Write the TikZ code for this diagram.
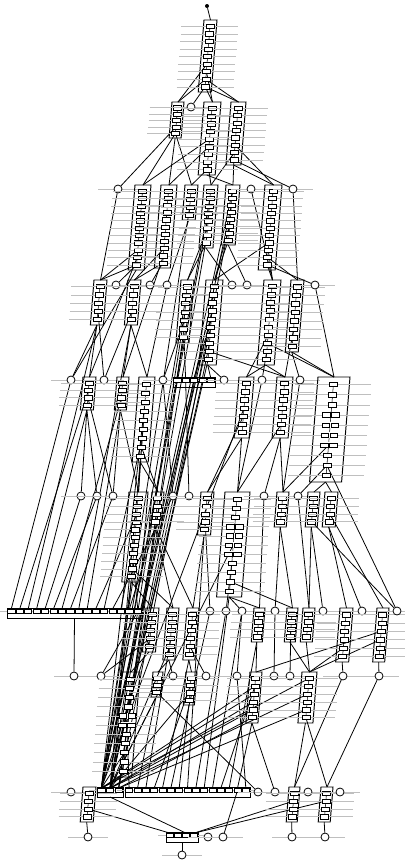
\documentclass[tikz,border=0pt]{standalone}
\usepackage{tikz}
\usetikzlibrary{calc,backgrounds}
\tikzstyle{ring}=[circle, draw=black, fill=white, minimum size=0.16cm, inner sep=0pt, line width=0.45pt]
\tikzstyle{cell}=[rectangle, draw=black, fill=white, minimum width=0.16cm, minimum height=0.085cm, inner sep=0pt, line width=0.28pt]
\tikzstyle{barcell}=[rectangle, draw=black, fill=white, minimum height=0.085cm, inner sep=0pt, line width=0.28pt]
\tikzstyle{frame}=[draw=black, line width=0.55pt]
\tikzstyle{wire}=[black, line width=0.45pt]
\tikzstyle{labline}=[gray!50, line width=0.25pt]
\tikzstyle{dot}=[circle, fill=black, minimum size=0.08cm, inner sep=0pt]

% cluster: name, x, y, width, height, cells
\newcommand{\clus}[6]{%
  \pgfmathsetmacro{\clS}{0.08*#5}
  \draw[frame] (#2,#3) -- ++(#4,0) -- ++(-\clS,#5) -- ++(-#4,0) -- cycle;
  \coordinate (#1) at ({#2+#4/2},#3);
  \coordinate (#1b) at ({#2+#4/2-\clS},{#3+#5});
  \foreach \i in {1,...,#6}{
    \pgfmathsetmacro{\clY}{#3+2.5+(\i-0.5)*(#5-4)/#6}
    \pgfmathsetmacro{\clX}{#2+#4/2-\clS*(\clY-#3)/#5}
    \draw[labline] ({\clX-#4/2-22},\clY) -- ({\clX+#4/2+22},\clY);
    \node[cell] (#1-\i) at (\clX,\clY) {};
  }
  \begin{pgfonlayer}{background}
    \draw[wire, line width=0.3pt] (#1-1.center) -- (#1-#6.center);
  \end{pgfonlayer}
}
% bar: name, x, y, width, cells
\newcommand{\cbar}[5]{%
  \draw[frame, line width=0.45pt] (#2,#3) rectangle ({#2+#4},{#3+10});
  \coordinate (#1) at ({#2+#4/2},#3);
  \coordinate (#1b) at ({#2+#4/2},{#3+10});
  \draw[labline] ({#2-8},{#3+3.5}) -- ({#2+#4+8},{#3+3.5});
  \pgfmathsetmacro{\clW}{(#4/#5-1.2)*0.02}
  \foreach \i in {1,...,#5}{
    \pgfmathsetmacro{\clX}{#2+(\i-0.5)*#4/#5}
    \node[barcell, minimum width=\clW cm] (#1-\i) at (\clX,{#3+3.5}) {};
  }
}
% ring: name, x, y
\newcommand{\ring}[3]{%
  \draw[labline] ({#2-20},#3) -- ({#2+20},#3);
  \node[ring] (#1) at (#2,#3) {};
}
% split a cell in two
\newcommand{\twin}[2]{%
  \fill[white] ($(#1-#2)+(-5.5,-3)$) rectangle ($(#1-#2)+(5.5,3)$);
  \node[cell, minimum width=0.15cm] at ($(#1-#2)+(-4.5,0)$) {};
  \node[cell, minimum width=0.15cm] at ($(#1-#2)+(4.5,0)$) {};
}

\begin{document}
\begin{tikzpicture}[x=0.02cm, y=-0.02cm]
  \useasboundingbox (0,0) rectangle (405,860);

  % Row 1
  \node[dot] (in) at (207,6) {};
  \clus{a}{204}{20}{13}{72}{9}

  % Row 2
  \clus{b1}{172}{102}{12}{36}{5}
  \ring{h2a}{191}{107}
  \clus{b2}{204}{102}{17}{73}{9}
  \clus{b3}{231}{102}{15}{63}{8}

  % Row 3
  \ring{h3a}{118}{189}
  \clus{c1}{135}{185}{16}{85}{11}
  \clus{c2}{161}{185}{16}{83}{11}
  \clus{c3}{185}{185}{13}{35}{4}
  \clus{c4}{204}{185}{14}{63}{8}
  \clus{c5}{226}{185}{14}{60}{8}
  \ring{h3b}{251}{189}
  \clus{c6}{265}{185}{17}{85}{11}
  \ring{h3c}{293}{189}

  % Row 4
  \clus{d1}{94}{280}{13}{45}{5}
  \ring{h4a}{116}{285}
  \clus{d2}{128}{280}{13}{45}{5}
  \ring{h4b}{150}{285}
  \ring{h4c}{167}{285}
  \clus{d3}{181}{280}{13}{63}{7}
  \clus{d4}{206}{280}{17}{85}{10}
  \ring{h4d}{232}{285}
  \ring{h4e}{247}{285}
  \clus{d5}{264}{280}{17}{85}{10}
  \clus{d6}{291}{280}{13}{72}{8}
  \ring{h4f}{315}{285}

  % Row 5
  \ring{h5a}{71}{380}
  \clus{e1}{83}{377}{13}{33}{4}
  \ring{h5b}{104}{380}
  \clus{e2}{117}{377}{12}{33}{4}
  \clus{e3}{139}{377}{16}{85}{9}
  \ring{h5c}{163}{380}
  \cbar{r5}{173}{377}{42}{5}
  \ring{h5d}{224}{380}
  \clus{e4}{239}{377}{15}{61}{7}
  \ring{h5e}{262}{380}
  \clus{e5}{277}{377}{16}{61}{7}
  \ring{h5f}{300}{380}
  \clus{e6}{318}{377}{32}{105}{10}
  \foreach \t in {4,...,7} {\twin{e6}{\t}}

  % Row 6
  \ring{h6a}{81}{496}
  \ring{h6b}{97}{496}
  \ring{h6c}{113}{496}
  \clus{f1}{129}{492}{19}{90}{11}
  \clus{f2}{152}{492}{12}{35}{4}
  \ring{h6d}{173}{496}
  \ring{h6e}{189}{496}
  \clus{f3}{201}{492}{13}{43}{5}
  \clus{f4}{225}{492}{25}{105}{11}
  \foreach \t in {4,...,7} {\twin{f4}{\t}}
  \ring{h6f}{264}{496}
  \clus{f5}{277}{492}{12}{35}{4}
  \ring{h6g}{298}{496}
  \clus{f6}{308}{492}{12}{35}{4}
  \clus{f7}{325}{492}{13}{35}{4}

  % Row 7
  \cbar{g0}{7}{608}{135}{16}
  \clus{g1}{146}{608}{13}{44}{5}
  \clus{g2}{167}{608}{12}{52}{6}
  \clus{g3}{187}{608}{12}{52}{6}
  \ring{h7a}{210}{611}
  \ring{h7b}{226}{611}
  \ring{h7c}{242}{611}
  \clus{g4}{254}{608}{11}{34}{4}
  \ring{h7d}{275}{611}
  \clus{g5}{287}{608}{11}{34}{4}
  \clus{g6}{303}{608}{12}{34}{4}
  \ring{h7e}{323}{611}
  \clus{g7}{340}{608}{13}{54}{6}
  \ring{h7f}{362}{611}
  \clus{g8}{377}{608}{12}{54}{6}
  \ring{h7g}{397}{611}

  % Row 8
  \ring{h8a}{74}{676}
  \ring{h8b}{101}{676}
  \clus{k1}{122}{672}{18}{105}{11}
  \foreach \t in {5,6} {\twin{k1}{\t}}
  \clus{k2}{153}{672}{10}{25}{3}
  \ring{h8c}{173}{676}
  \clus{k3}{186}{672}{11}{33}{4}
  \ring{h8d}{206}{676}
  \ring{h8e}{237}{676}
  \clus{k4}{250}{672}{12}{51}{6}
  \ring{h8f}{274}{676}
  \ring{h8g}{290}{676}
  \clus{k5}{302}{672}{15}{51}{6}
  \ring{h8h}{343}{676}
  \ring{h8i}{379}{676}

  % Row 9
  \ring{h9a}{71}{792}
  \clus{m1}{83}{787}{13}{35}{4}
  \cbar{m2}{97}{787}{26}{3}
  \cbar{m3}{125}{787}{125}{15}
  \ring{h9b}{258}{792}
  \ring{h9c}{275}{792}
  \clus{m4}{289}{787}{11}{35}{4}
  \ring{h9d}{308}{792}
  \clus{m5}{321}{787}{12}{35}{4}
  \ring{h9e}{340}{792}

  % Row 10
  \ring{h10a}{88}{837}
  \cbar{n1}{166}{832}{32}{4}
  \ring{h10b}{208}{837}
  \ring{h10c}{223}{837}
  \ring{h10d}{292}{837}
  \ring{h10e}{325}{837}
  \ring{h10f}{182}{855}

  % Edges
  \begin{pgfonlayer}{background}
    \foreach \p/\q in {in/a,
      a-6/b1, a-8/b1, a-9/h2a, a-7/b2, a-9/b2, a-8/b3, a-9/b3,
      b1-4/h3a, b1-5/c1, b1b/c2, b1-5/c3, b2-5/c1, b2-6/c2, b2-9/c3, b2-8/c4, b2b/c5,
      b3-7/c4, b3-8/c5, b3-6/c6, b3b/c6, b3-8/h3c,
      h3a/d1, c1-9/d1, c1-11/d1, c1-11/h4a, c2-9/d2, c2-11/d2, c2-11/h4b, c3b/h4c,
      c4-6/d3, c4-8/d3, c5-6/d4, c5-8/d4, c4b/h4d, c5b/h4e, c6-8/d4, c6-9/d5, c6-11/d5,
      c6-10/d6, c6-11/h4f, h3c/d6, h3b/d5, c1-10/e1, c2-10/e2, c1b/h5a,
      d1b/h5a, d1b/e1, d1-4/h5b, d2b/e2, d2-4/h5b, d2b/e3, h4c/e3,
      d3b/r5-1.north, d3-6/r5-2.north, d4-5/r5-3.north, d4-8/r5-4.north, d4b/r5-5.north,
      d3-5/h5c, d4b/h5d, d4-9/e5, d5-7/e4, d5b/e4, d5-9/h5e, d5b/e5, d6-6/e5, d6b/h5f,
      d6b/e6, h4f/e6, d5-8/e6,
      e1b/h6a, e1b/h6b, e1-3/h6c, e2b/h6c, e2b/f1, e3-5/f1, e3b/f1, e3-8/f2, e3b/f2,
      h5c/h6d, r5-2/h6e, e4b/f3, e4-5/f3, e4b/f4, e5-6/f4, e5b/h6f, e5b/f5, e6-7/f5,
      h5f/f5, e6-9/h6g, e6b/f6, e6b/f7, h5e/f4}
      \draw[wire] (\p) -- (\q);
    % into the long bar
    \foreach \p/\q in {h5a/g0-1, e1-2/g0-2, d1b/g0-3, e1b/g0-4, h6a/g0-5, h6b/g0-6,
      e2-3/g0-7, h6c/g0-8, d2b/g0-9, e2b/g0-10, f1-3/g0-11, e3-7/g0-12, h6d/g0-13,
      f1-6/g0-14, f2b/g0-15, f1-9/g0-16}
      \draw[wire] (\p) -- (\q.north);
    % bundle down to m2
    \foreach \p/\q in {c3-3/m2-1, c4-2/m2-1, c4-4/m2-1, c4-7/m2-2, c5-1/m2-1, c5-3/m2-2,
      c5-5/m2-3, d3-2/m2-1, d3-4/m2-2, d3-7/m2-3, d4-2/m2-1, d4-4/m2-1, d4-6/m2-2,
      d4-10/m2-2, e3-3/m2-1, e3-9/m2-2, f1b/m2-1, f1-10/m2-2, f2-3/m2-3, r5-3/m2-1,
      r5-4/m2-2, e4-4/m2-1, f4-6/m2-2, g1-4/m2-1, g2-5/m2-2,
      k1b/m2-1, k1-9/m2-1, k2b/m2-2, k3-3/m2-2, k4-2/m2-1, k4-3/m2-1, k4-4/m2-2,
      k4-5/m2-2, k4-6/m2-3, k5-1/m2-1, k5-3/m2-2, k5-5/m2-3}
      \draw[wire] (\p) -- (\q.north);
    % into m3
    \foreach \p/\q in {k1-6/m3-1, k2b/m3-2, g2-4/m3-3, k3-2/m3-4, g3b/m3-5, h7a/m3-6,
      k3b/m3-7, f3b/m3-8, h7b/m3-9, f4b/m3-10, h7c/m3-11, k4-2/m3-12, g4b/m3-13,
      k4b/m3-14, h8e/m3-15}
      \draw[wire] (\p) -- (\q.north);
    \foreach \p/\q in {f1b/g1, f1-10/g2, f2b/g2, f2b/g3, f3b/g3, f3-4/h7a, f4-8/h7b,
      f4b/h7c, f4b/g4, h6f/g4, f4-10/g5, f5b/g5, f5b/h7d, h6g/g6, f6b/g6, f6b/h7e,
      f7b/g7, f7b/h7f, f7-3/g8, f6-4/h7g, e6-9/h7g,
      g0b/h8a, g0-16/h8b, g1b/k1, g1-4/h8b, g2b/k2, g2b/h8c, g3b/k3, g3-5/h8d,
      h7c/h8e, g4b/k4, h7d/h8f, g5b/k5, g5-3/h8g, g6b/k5, g7b/h8h, g8b/h8i, g7-5/k5,
      g8-4/k5, g8-3/k4,
      k5b/m4, k5-6/m5, h8h/m4, h8i/m5, k4b/h9c, k2-3/h9b,
      m1b/h10a, m1-3/n1-1.north, m2b/n1-3.north, m3-14/h10c, m4-2/n1-4.north,
      m5-2/n1-4.north, n1b/h10f, m4b/h10d, m5b/h10e}
      \draw[wire] (\p) -- (\q);
  \end{pgfonlayer}
\end{tikzpicture}
\end{document}
